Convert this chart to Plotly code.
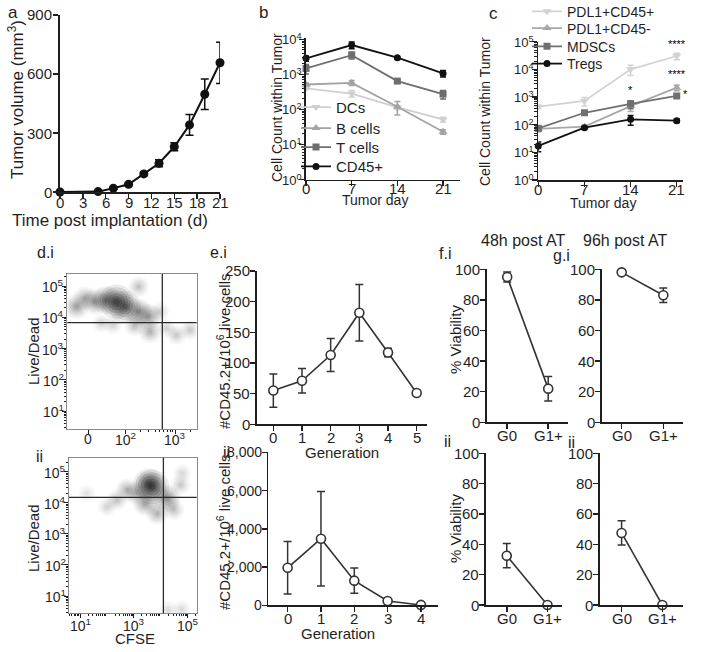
import numpy as np
import plotly.graph_objects as go

W, H = 708, 652
FONT = "Liberation Sans, Arial, sans-serif"
INK = "#1f1f1f"

# ---------------- data ----------------
# a: tumor growth
a_day = [0, 5, 7, 9, 11, 13, 15, 17, 19, 21]
a_volume = [0, 2, 19, 39, 92, 146, 230, 341, 497, 657]
a_sem = [0, 2, 5, 8, 10, 18, 20, 53, 77, 105]
a_xticks = [0, 3, 6, 9, 12, 15, 18, 21]
a_yticks = [0, 300, 600, 900]

# b: immune cells within tumor
b_day = [0, 7, 14, 21]
b_names = ["DCs", "B cells", "T cells", "CD45+"]
b_dcs = [400, 285, 114, 52]
b_dcs_sem = [30, 60, 15, 8]
b_bcells = [515, 575, 119, 23]
b_bcells_sem = [50, 95, 50, 3.5]
b_tcells = [1480, 3550, 645, 275]
b_tcells_sem = [450, 800, 60, 75]
b_cd45 = [2880, 6900, 3000, 1070]
b_cd45_sem = [500, 1500, 200, 230]

# c: suppressive populations
c_day = [0, 7, 14, 21]
c_names = ["PDL1+CD45+", "PDL1+CD45-", "MDSCs", "Tregs"]
c_pdl1_cd45pos = [447, 720, 10000, 30400]
c_pdl1_cd45pos_sem = [60, 250, 4000, 8000]
c_pdl1_cd45neg = [70, 85, 470, 2180]
c_pdl1_cd45neg_sem = [15, 8, 170, 500]
c_mdsc = [74, 270, 560, 1090]
c_mdsc_sem = [12, 45, 180, 120]
c_tregs = [17, 78, 156, 139]
c_tregs_sem = [6.5, 8, 60, 20]
log_ticks = [1, 10, 100, 1000, 10000, 100000]
log_ticktext = ["10<sup>0</sup>", "10<sup>1</sup>", "10<sup>2</sup>", "10<sup>3</sup>",
                "10<sup>4</sup>", "10<sup>5</sup>"]

# d: flow density blobs (x: CFSE display decades, y: log10 Live/Dead, relative density)
di_cfse = [1.83, 2.00, 1.63, 1.40, 1.03, 1.20, 2.27, 2.47, 2.27, 2.50, 2.20, 2.70, 3.03, 3.30, 2.83, 1.53, 1.76]
di_livedead = [4.50, 4.34, 4.55, 4.50, 4.34, 4.62, 4.18, 4.02, 4.98, 3.54, 3.75, 4.18, 3.43, 3.59, 3.65, 3.81, 3.75]
di_density = [1.00, 0.85, 0.65, 0.50, 0.45, 0.35, 0.55, 0.50, 0.25, 0.35, 0.30, 0.15, 0.20, 0.20, 0.15, 0.15, 0.15]
di_gate_cfse = 2.746
di_gate_livedead = 3.83
dii_cfse = [3.68, 3.55, 4.23, 3.43, 2.75, 3.10, 2.37, 2.00, 3.87, 4.49, 4.74, 1.25, 4.80, 4.28, 4.78]
dii_livedead = [4.51, 4.60, 4.14, 3.98, 4.41, 4.30, 4.09, 3.87, 3.66, 3.77, 4.57, 4.30, 4.95, 0.55, 0.57]
dii_density = [1.00, 0.80, 0.60, 0.45, 0.35, 0.35, 0.25, 0.15, 0.35, 0.25, 0.20, 0.08, 0.12, 0.10, 0.12]
dii_gate_cfse = 4.10
dii_gate_livedead = 4.17
di_xtickvals = [1.26, 2, 3]
di_xticktext = ["0", "10<sup>2</sup>", "10<sup>3</sup>"]
dii_xtickvals = [1, 3, 5]
dii_xticktext = ["10<sup>1</sup>", "10<sup>3</sup>", "10<sup>5</sup>"]
d_ytickvals = [1, 2, 3, 4, 5]
d_yticktext = ["10<sup>1</sup>", "10<sup>2</sup>", "10<sup>3</sup>", "10<sup>4</sup>", "10<sup>5</sup>"]

# e: cells per generation
e_gen_i = [0, 1, 2, 3, 4, 5]
e_count_i = [55, 71, 113, 182, 117, 51]
e_sem_i = [27, 20, 27, 46, 7, 4]
e_yticks_i = [0, 50, 100, 150, 200, 250]
e_gen_ii = [0, 1, 2, 3, 4]
e_count_ii = [1960, 3480, 1290, 225, 20]
e_sem_ii = [1370, 2470, 665, 60, 0]
e_yticks_ii = [0, 2000, 4000, 6000, 8000]

# f, g: viability
fg_groups = ["G0", "G1+"]
f_i = [95, 22]
f_i_sem = [3.3, 8]
g_i = [98, 83]
g_i_sem = [0, 4.7]
f_ii = [32.5, 0]
f_ii_sem = [8, 0]
g_ii = [47.5, 0]
g_ii_sem = [8, 0]
fg_yticks = [0, 20, 40, 60, 80, 100]

# ---------------- helpers ----------------
fig = go.Figure()
annotations = []
shapes = []
legends = {}


def xd(p0, p1):
    return [p0 / W, p1 / W]


def yd(top, bottom):
    return [1 - bottom / H, 1 - top / H]


def px(x):
    return x / W


def py(y):
    return 1 - y / H


def axis(**kw):
    base = dict(showline=True, linecolor=INK, linewidth=1.6, ticks="outside", ticklen=5,
                tickwidth=1.5, tickcolor=INK, showgrid=False, zeroline=False, fixedrange=True,
                showticklabels=False)
    base.update(kw)
    return base


def font(size):
    return dict(family=FONT, size=size, color=INK)


def xlabels(xa, vals, texts, axis_y, off, size):
    for v, t in zip(vals, texts):
        annotations.append(dict(text=str(t), x=v, xref=xa, y=py(axis_y + off), yref="paper",
                                showarrow=False, xanchor="center", yanchor="middle", font=font(size)))


def ylabels(ya, vals, texts, axis_x, off, size, log=False):
    for v, t in zip(vals, texts):
        annotations.append(dict(text=str(t), x=px(axis_x - off), xref="paper",
                                y=float(np.log10(v)) if log else v, yref=ya,
                                showarrow=False, xanchor="right", yanchor="middle", font=font(size)))


def series(x, y, err, xa, ya, color, symbol="circle", size=8, name=None, legend="legend",
           showlegend=False, open_marker=False, width=1.8, cap=3):
    if open_marker:
        marker = dict(symbol="circle", size=size, color="white", line=dict(color=color, width=1.6))
    else:
        marker = dict(symbol=symbol, size=size, color=color, line=dict(width=0))
    fig.add_trace(go.Scatter(
        x=x, y=y, mode="lines+markers", xaxis=xa, yaxis=ya, name=name, legend=legend,
        showlegend=showlegend, line=dict(color=color, width=width), marker=marker,
        error_y=dict(type="data", array=err, visible=True, color=color, thickness=1.5, width=cap),
        cliponaxis=False, hoverinfo="skip"))


def label(text, x, y, size=15, angle=0):
    annotations.append(dict(text=text, x=px(x), y=py(y), xref="paper", yref="paper",
                            showarrow=False, textangle=angle, xanchor="center", yanchor="middle",
                            font=font(size)))


def blobs(xv, yv, dens, xa, ya):
    dens = np.array(dens)
    for scale, k in [(1.5, 0.07), (1.25, 0.09), (1.0, 0.12), (0.75, 0.14), (0.5, 0.16), (0.28, 0.18)]:
        fig.add_trace(go.Scatter(
            x=xv, y=yv, mode="markers", xaxis=xa, yaxis=ya, showlegend=False, hoverinfo="skip",
            marker=dict(color="black", size=(11 + 12 * dens) * scale,
                        opacity=np.clip(dens * k + 0.01, 0, 1), line=dict(width=0))))


def minor_log(lo, hi):
    return [n + np.log10(k) for n in range(lo, hi) for k in range(2, 10)]


lay = {}

# ---------------- a ----------------
series(a_day, a_volume, a_sem, "x", "y", "#111111", size=9, width=2, cap=4)
lay["xaxis"] = axis(domain=xd(60, 220), range=[0, 21], tickvals=a_xticks, anchor="y")
lay["yaxis"] = axis(domain=yd(15, 192), range=[0, 900], tickvals=a_yticks, anchor="x")
xlabels("x", a_xticks, a_xticks, 192, 10, 15)
ylabels("y", a_yticks, a_yticks, 60, 6, 15)

# ---------------- b ----------------
b_style = [("#cfcfcf", "triangle-down", 8), ("#a3a3a3", "triangle-up", 8),
           ("#6e6e6e", "square", 7), ("#111111", "circle", 7)]
b_vals = [(b_dcs, b_dcs_sem), (b_bcells, b_bcells_sem), (b_tcells, b_tcells_sem), (b_cd45, b_cd45_sem)]
b_legend_y = [107.3, 128.3, 147.3, 166.7]
for i, (name, (vals, sem), (col, sym, sz), ly) in enumerate(zip(b_names, b_vals, b_style, b_legend_y)):
    lname = "legend" if i == 0 else f"legend{i + 1}"
    series(b_day, vals, sem, "x2", "y2", col, sym, sz, name, lname, True)
    legends[lname] = dict(x=px(296), y=py(ly), xanchor="left", yanchor="middle",
                          bgcolor="rgba(0,0,0,0)", font=font(15), itemwidth=30)
lay["xaxis2"] = axis(domain=xd(306, 460), range=[0, 23.6], tickvals=b_day, anchor="y2")
lay["yaxis2"] = axis(domain=yd(38, 179.5), type="log", range=[0, 4.04], tickvals=log_ticks[:5],
                     anchor="x2",
                     minor=dict(ticks="outside", ticklen=2.5, tickwidth=1, tickcolor=INK,
                                tickvals=[k * 10 ** n for n in range(0, 4) for k in range(2, 10)]))
xlabels("x2", b_day, b_day, 179.5, 8.5, 15)
ylabels("y2", log_ticks[:5], log_ticktext[:5], 306, 2, 13, log=True)

# ---------------- c ----------------
c_style = [("#d2d2d2", "triangle-down", 8), ("#a8a8a8", "triangle-up", 8),
           ("#707070", "square", 7), ("#111111", "circle", 7)]
c_vals = [(c_pdl1_cd45pos, c_pdl1_cd45pos_sem), (c_pdl1_cd45neg, c_pdl1_cd45neg_sem),
          (c_mdsc, c_mdsc_sem), (c_tregs, c_tregs_sem)]
c_legend_y = [11.7, 28.5, 46.7, 64]
for i, (name, (vals, sem), (col, sym, sz), ly) in enumerate(zip(c_names, c_vals, c_style, c_legend_y)):
    lname = f"legend{i + 5}"
    series(c_day, vals, sem, "x3", "y3", col, sym, sz, name, lname, True)
    legends[lname] = dict(x=px(527), y=py(ly), xanchor="left", yanchor="middle",
                          bgcolor="rgba(0,0,0,0)", font=font(14), itemwidth=30)
lay["xaxis3"] = axis(domain=xd(538.3, 683), range=[0, 21.95], tickvals=c_day, anchor="y3")
lay["yaxis3"] = axis(domain=yd(41.7, 180), type="log", range=[0, 5.0], tickvals=log_ticks,
                     anchor="x3",
                     minor=dict(ticks="outside", ticklen=2.5, tickwidth=1, tickcolor=INK,
                                tickvals=[k * 10 ** n for n in range(0, 5) for k in range(2, 10)]))
xlabels("x3", c_day, c_day, 180, 9.5, 15)
ylabels("y3", log_ticks, log_ticktext, 538.3, 2, 13, log=True)
sig = [("****", 21, c_pdl1_cd45pos[3] + c_pdl1_cd45pos_sem[3], 0, 1),
       ("****", 21, c_pdl1_cd45neg[3] + c_pdl1_cd45neg_sem[3], 0, 3),
       ("*", 14, c_mdsc[2] + c_mdsc_sem[2], 0, 3),
       ("*", 21, c_mdsc[3], 9, -6)]
for txt, xv, yv, xs, ys in sig:
    annotations.append(dict(text=txt, x=xv, y=float(np.log10(yv)), xref="x3", yref="y3", showarrow=False,
                            xshift=xs, yshift=ys, yanchor="bottom",
                            font=dict(family=FONT, size=11, color="#000000")))

# ---------------- d ----------------
blobs(di_cfse, di_livedead, di_density, "x4", "y4")
blobs(dii_cfse, dii_livedead, dii_density, "x5", "y5")
d_common = dict(linecolor="#8a8a8a", linewidth=1, mirror=True, ticklen=4, tickwidth=1)
lay["xaxis4"] = axis(domain=xd(67.3, 196.7), range=[0.846, 3.434], tickvals=di_xtickvals, anchor="y4",
                     minor=dict(ticks="outside", ticklen=2, tickwidth=1, tickcolor=INK,
                                tickvals=minor_log(2, 4)), **d_common)
lay["yaxis4"] = axis(domain=yd(274, 429), range=[0.424, 5.384], tickvals=d_ytickvals, anchor="x4",
                     minor=dict(ticks="outside", ticklen=2, tickwidth=1, tickcolor=INK,
                                tickvals=minor_log(0, 6)), **d_common)
lay["xaxis5"] = axis(domain=xd(69, 196.7), range=[0.591, 5.338], tickvals=dii_xtickvals, anchor="y5",
                     minor=dict(ticks="outside", ticklen=2, tickwidth=1, tickcolor=INK,
                                tickvals=minor_log(0, 6)), **d_common)
lay["yaxis5"] = axis(domain=yd(457.7, 613.3), range=[0.444, 5.447], tickvals=d_ytickvals, anchor="x5",
                     minor=dict(ticks="outside", ticklen=2, tickwidth=1, tickcolor=INK,
                                tickvals=minor_log(0, 6)), **d_common)
xlabels("x4", di_xtickvals, di_xticktext, 429, 10, 14)
ylabels("y4", d_ytickvals, d_yticktext, 67.3, 1, 14)
xlabels("x5", dii_xtickvals, dii_xticktext, 613.3, 12, 14)
ylabels("y5", d_ytickvals, d_yticktext, 69, 1, 14)
for xa, ya, gx, gy in [("x4", "y4", di_gate_cfse, di_gate_livedead),
                       ("x5", "y5", dii_gate_cfse, dii_gate_livedead)]:
    shapes.append(dict(type="line", xref=xa, yref=ya + " domain", x0=gx, x1=gx, y0=0, y1=1,
                       line=dict(color="#2a2a2a", width=1.3)))
    shapes.append(dict(type="line", xref=xa + " domain", yref=ya, x0=0, x1=1, y0=gy, y1=gy,
                       line=dict(color="#2a2a2a", width=1.3)))

# ---------------- e ----------------
GR = "#333333"
series(e_gen_i, e_count_i, e_sem_i, "x6", "y6", GR, size=9, open_marker=True, width=1.6, cap=4)
series(e_gen_ii, e_count_ii, e_sem_ii, "x7", "y7", GR, size=9, open_marker=True, width=1.6, cap=4)
lay["xaxis6"] = axis(domain=xd(256.7, 426.7), range=[-0.58, 5.35], tickvals=e_gen_i, anchor="y6")
lay["yaxis6"] = axis(domain=yd(271, 424.3), range=[0, 250], tickvals=e_yticks_i, anchor="x6")
lay["xaxis7"] = axis(domain=xd(268.3, 438.3), range=[-0.58, 4.52], tickvals=e_gen_ii, anchor="y7")
lay["yaxis7"] = axis(domain=yd(452.3, 605.3), range=[0, 8000], tickvals=e_yticks_ii, anchor="x7")
xlabels("x6", e_gen_i, e_gen_i, 424.3, 13, 15)
ylabels("y6", e_yticks_i, e_yticks_i, 256.7, 5, 15)
xlabels("x7", e_gen_ii, e_gen_ii, 605.3, 13, 15)
ylabels("y7", e_yticks_ii, [f"{v:,}" for v in e_yticks_ii], 268.3, 4, 14)

# ---------------- f, g ----------------
series(fg_groups, f_i, f_i_sem, "x8", "y8", GR, size=9, open_marker=True, width=1.6, cap=4)
series(fg_groups, g_i, g_i_sem, "x9", "y9", GR, size=9, open_marker=True, width=1.6, cap=4)
series(fg_groups, f_ii, f_ii_sem, "x10", "y10", GR, size=9, open_marker=True, width=1.6, cap=4)
series(fg_groups, g_ii, g_ii_sem, "x11", "y11", GR, size=9, open_marker=True, width=1.6, cap=4)
for n, (x0, x1, rng, top, bot) in {8: (486.7, 568.3, [-0.5, 1.49], 269.3, 422.3),
                                   9: (601.7, 683.3, [-0.48, 1.48], 269.3, 422.3),
                                   10: (486, 561.7, [-0.51, 1.35], 453.3, 605),
                                   11: (600, 682.7, [-0.53, 1.5], 453.3, 605)}.items():
    lay[f"xaxis{n}"] = axis(domain=xd(x0, x1), range=rng, type="category", anchor=f"y{n}")
    lay[f"yaxis{n}"] = axis(domain=yd(top, bot), range=[0, 100], tickvals=fg_yticks, anchor=f"x{n}")
    xlabels(f"x{n}", fg_groups, fg_groups, bot, 13.5, 15)
    ylabels(f"y{n}", fg_yticks, fg_yticks, x0, 5, 15)

# ---------------- text ----------------
label("a", 13, 13, 17)
label("Tumor volume (mm<sup>3</sup>)", 16, 100, 17, -90)
label("Time post implantation (d)", 110, 220, 17)
label("b", 263, 13, 17)
label("Cell Count within Tumor", 277, 108, 14, -90)
label("Tumor day", 375, 200, 14)
label("c", 493, 14, 17)
label("Cell Count within Tumor", 485, 112, 14, -90)
label("Tumor day", 603, 203, 14)
label("d.i", 45, 252, 16)
label("Live/Dead", 33, 351, 15, -90)
label("ii", 39, 457, 16)
label("Live/Dead", 33, 538, 15, -90)
label("CFSE", 135, 638, 15)
label("e.i", 218, 252, 16)
label("#CD45.2+/10<sup>6</sup> live cells", 223, 351, 15, -90)
label("Generation", 342, 452, 15)
label("ii", 226, 452, 16)
label("#CD45.2+/10<sup>6</sup> live cells", 223, 532, 15, -90)
label("Generation", 338, 633, 15)
label("48h post AT", 523, 241, 16)
label("96h post AT", 625, 241, 16)
label("f.i", 445, 253, 16)
label("g.i", 561, 256, 16)
label("% Viability", 455, 340, 15, -90)
label("ii", 447, 441, 16)
label("% Viability", 455, 529, 15, -90)
label("ii", 571, 442, 16)

fig.update_layout(
    width=W, height=H, margin=dict(l=0, r=0, t=0, b=0, autoexpand=False),
    paper_bgcolor="white", plot_bgcolor="white", showlegend=True,
    font=dict(family=FONT, color=INK),
    annotations=annotations, shapes=shapes, **legends, **lay)

fig.write_html("out.html", config={"displayModeBar": False, "staticPlot": True},
               post_script="document.body.style.margin='0px';document.body.style.padding='0px';")
